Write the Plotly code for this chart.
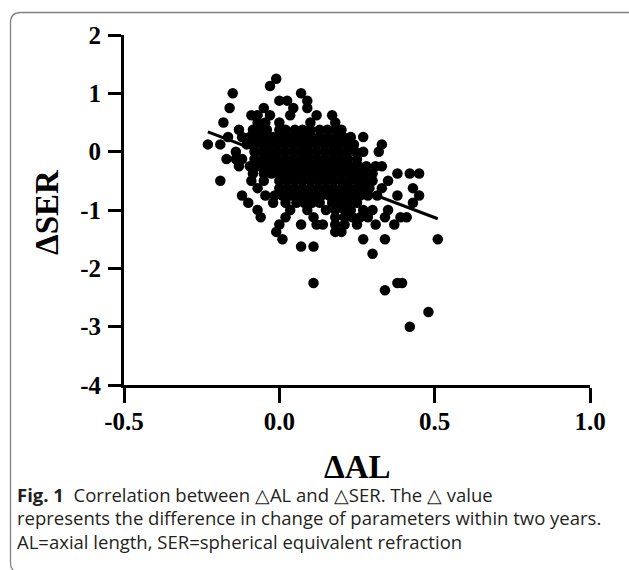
import plotly.graph_objects as go

# ---------------- data ----------------
ser_levels = [1.25, 1.125, 1.0, 0.875, 0.75, 0.625, 0.5, 0.375, 0.25, 0.125, 0.0,
              -0.125, -0.25, -0.375, -0.5, -0.625, -0.75, -0.875, -1.0, -1.125,
              -1.25, -1.375, -1.5, -1.625, -1.75, -2.25, -2.375, -2.75, -3.0]

al_by_level = [
    [-0.01],
    [-0.03],
    [-0.15, 0.07],
    [0.0, 0.025, 0.09],
    [-0.16, -0.05, 0.045, 0.09],
    [-0.09, -0.07, -0.03, 0.035, 0.12, 0.17],
    [-0.18, -0.07, -0.045, 0.0, 0.1, 0.18],
    [-0.13, -0.085, -0.06, -0.04, 0.0, 0.02, 0.05, 0.075, 0.1, 0.13, 0.155, 0.18, 0.2],
    [-0.165, -0.12, -0.095, -0.07, -0.045, -0.02, 0.005, 0.03, 0.055, 0.08, 0.105, 0.13,
     0.155, 0.18, 0.205, 0.23, 0.27],
    [-0.23, -0.19, -0.105, -0.08, -0.055, -0.03, -0.005, 0.02, 0.045, 0.07, 0.095, 0.12,
     0.145, 0.17, 0.195, 0.22, 0.24, 0.33],
    [-0.14, -0.08, -0.055, -0.03, -0.005, 0.02, 0.045, 0.07, 0.095, 0.12, 0.145, 0.17,
     0.195, 0.22, 0.245, 0.27, 0.32],
    [-0.17, -0.14, -0.12, -0.08, -0.055, -0.03, -0.005, 0.02, 0.045, 0.07, 0.095, 0.12,
     0.145, 0.17, 0.195, 0.22, 0.25],
    [-0.13, -0.095, -0.07, -0.045, -0.02, 0.005, 0.03, 0.055, 0.08, 0.105, 0.13, 0.155,
     0.18, 0.205, 0.23, 0.255, 0.28, 0.31, 0.33],
    [-0.085, -0.05, -0.025, 0.0, 0.025, 0.05, 0.075, 0.1, 0.125, 0.15, 0.175, 0.2, 0.225,
     0.25, 0.275, 0.3, 0.38, 0.42, 0.45],
    [-0.19, -0.09, -0.05, 0.0, 0.025, 0.05, 0.075, 0.1, 0.125, 0.15, 0.175, 0.2, 0.225,
     0.25, 0.275, 0.3, 0.35],
    [-0.07, 0.0, 0.025, 0.05, 0.075, 0.1, 0.125, 0.15, 0.175, 0.2, 0.225, 0.25, 0.27,
     0.29, 0.33, 0.43],
    [-0.12, -0.045, -0.015, 0.01, 0.035, 0.06, 0.085, 0.11, 0.135, 0.16, 0.185, 0.21,
     0.235, 0.26, 0.285, 0.315, 0.38, 0.45],
    [-0.1, -0.02, 0.02, 0.055, 0.08, 0.105, 0.13, 0.17, 0.195, 0.22, 0.25, 0.43],
    [-0.07, 0.035, 0.09, 0.15, 0.18, 0.21, 0.23, 0.27, 0.3, 0.35],
    [-0.06, 0.02, 0.11, 0.18, 0.21, 0.235, 0.26, 0.285, 0.34, 0.39, 0.41],
    [0.0, 0.07, 0.12, 0.14, 0.18, 0.21, 0.25, 0.31, 0.37],
    [-0.01, 0.18, 0.2],
    [0.01, 0.27, 0.34, 0.51],
    [0.07, 0.11],
    [0.30],
    [0.11, 0.38, 0.395],
    [0.34],
    [0.48],
    [0.42],
]

fit_al = [-0.23, 0.51]
fit_ser = [0.34, -1.15]

x_tickvals = [-0.5, 0.0, 0.5, 1.0]
x_ticktext = ["-0.5", "0.0", "0.5", "1.0"]
y_tickvals = [-4, -3, -2, -1, 0, 1, 2]
y_ticktext = ["-4", "-3", "-2", "-1", "0", "1", "2"]

caption_lines = [
    "<b>Fig. 1</b>  Correlation between △AL and △SER. The △ value",
    "represents the difference in change of parameters within two years.",
    "AL=axial length, SER=spherical equivalent refraction",
]

# flatten
al_vals, ser_vals = [], []
for lvl, xs in zip(ser_levels, al_by_level):
    for xv in xs:
        al_vals.append(xv)
        ser_vals.append(lvl)

# ---------------- layout geometry (pixels) ----------------
W, H = 629, 570
L, R, T, B = 124, 39, 35, 185
PW, PH = W - L - R, H - T - B


def px(xp):
    return (xp - L) / PW


def py(yp):
    return (H - B - yp) / PH


serif = "Liberation Serif, Times New Roman, serif"
sans = "Open Sans, Noto Sans, sans-serif"

fig = go.Figure()
fig.add_trace(go.Scatter(
    x=al_vals, y=ser_vals, mode="markers",
    marker=dict(size=10.5, color="black", line=dict(width=0)),
    hoverinfo="skip", showlegend=False))
fig.add_trace(go.Scatter(
    x=fit_al, y=fit_ser, mode="lines",
    line=dict(color="black", width=3),
    hoverinfo="skip", showlegend=False))

axis_common = dict(
    showgrid=False, zeroline=False, showline=True, linecolor="black", linewidth=3,
    ticks="outside", tickcolor="black", tickwidth=3, mirror=False,
    tickfont=dict(family=serif, size=25, color="black", weight="bold"),
)
fig.update_xaxes(range=[-0.5, 1.0], tickvals=x_tickvals, ticktext=x_ticktext,
                 ticklen=15, ticklabelstandoff=-3, **axis_common)
fig.update_yaxes(range=[-4, 2], tickvals=y_tickvals, ticktext=y_ticktext,
                 ticklen=13, ticklabelstandoff=2, **axis_common)

annotations = [
    dict(text="ΔSER", x=px(47), y=py(212), xref="paper", yref="paper",
         textangle=-90, showarrow=False, xanchor="center", yanchor="middle",
         font=dict(family=serif, size=33, color="black", weight="bold")),
    dict(text="ΔAL", x=px(357), y=py(467), xref="paper", yref="paper",
         showarrow=False, xanchor="center", yanchor="middle",
         font=dict(family=serif, size=33, color="black", weight="bold")),
]
for i, line in enumerate(caption_lines):
    annotations.append(dict(
        text=line, x=px(15), y=py(494 + 23.5 * i), xref="paper", yref="paper",
        showarrow=False, xanchor="left", yanchor="middle", align="left",
        font=dict(family=sans, size=18.5, color="#231f20")))

# rounded border box (top-left and bottom-left corners visible)
bx0, by0, by1, bx1 = 10.5, 12.5, 572.5, 640
rx, ry = 10 / PW, 10 / PH
path = (f"M {px(bx1)} {py(by0)} L {px(bx0) + rx} {py(by0)} "
        f"Q {px(bx0)} {py(by0)} {px(bx0)} {py(by0) - ry} "
        f"L {px(bx0)} {py(by1) + ry} "
        f"Q {px(bx0)} {py(by1)} {px(bx0) + rx} {py(by1)} "
        f"L {px(bx1)} {py(by1)}")

fig.update_layout(
    width=W, height=H, autosize=False,
    margin=dict(l=L, r=R, t=T, b=B, pad=0),
    paper_bgcolor="white", plot_bgcolor="white",
    annotations=annotations,
    shapes=[dict(type="path", path=path, xref="paper", yref="paper",
                 line=dict(color="#808080", width=1.3), layer="below")],
)

fig.write_html("out.html", config={"displayModeBar": False},
               post_script="document.body.style.margin='0';"
                           "document.body.style.overflow='hidden';")
